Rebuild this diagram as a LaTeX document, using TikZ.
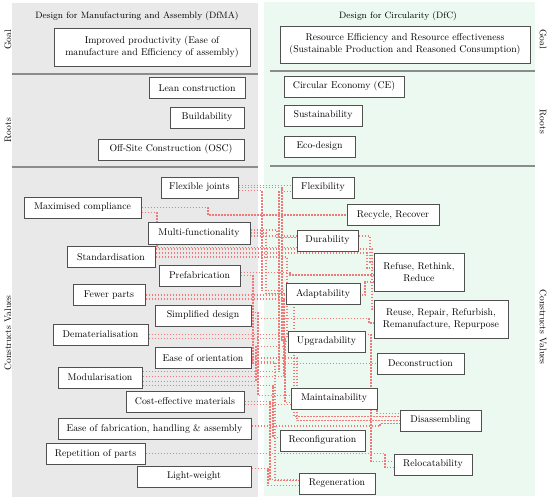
\documentclass[tikz,border=0pt]{standalone}
\usetikzlibrary{shadows}
\definecolor{panelgray}{RGB}{233,233,233}
\definecolor{panelgreen}{RGB}{235,249,240}
\definecolor{sepline}{RGB}{140,140,140}
\definecolor{connred}{RGB}{240,122,122}
\definecolor{boxline}{RGB}{80,80,80}
\pgfdeclarelayer{back}
\pgfdeclarelayer{lines}
\pgfsetlayers{back,lines,main}
\tikzset{
 box/.style={draw=boxline, line width=1pt, fill=white, inner sep=1pt, align=center,
   font=\fontsize{9.8}{11.8}\selectfont,
   drop shadow={shadow xshift=0.8pt, shadow yshift=-0.8pt, opacity=0.3}},
 conn/.style={draw=connred, line width=1.05pt, dash pattern=on 1.6pt off 1.4pt},
 side/.style={font=\fontsize{9.5}{10}\selectfont},
 ttl/.style={font=\fontsize{9.2}{10}\selectfont},
 sep/.style={draw=sepline, line width=1.2pt}
}
\newcommand\bx[6]{\node[box,minimum width=#4pt,minimum height=#5pt] (#1) at (#2,#3) {#6};}
\newcommand\cn[5]{%
 \coordinate (cs) at ([yshift=#2pt]#1.east);
 \coordinate (ct) at ([yshift=#5pt]#4.west);
 \coordinate (ck) at (#3,0);
 \draw[conn] (cs) -| (ck |- ct) -- (ct);}
\begin{document}
\begin{tikzpicture}[x=1pt,y=-1pt]
\useasboundingbox (0,0) rectangle (550,501);
% titles
\node[ttl] (t1) at (137,16) {Design for Manufacturing and Assembly (DfMA)};
\node[ttl] (t2) at (398,16) {Design for Circularity (DfC)};
% side labels
\node[side,rotate=90] (lg) at (8,40) {Goal};
\node[side,rotate=90] (lr) at (8,130) {Roots};
\node[side,rotate=90] (lc) at (8,333) {Constructs Values};
\node[side,rotate=-90] (rg) at (543,39) {Goal};
\node[side,rotate=-90] (rr) at (543,122) {Roots};
\node[side,rotate=-90] (rc) at (543,327) {Constructs Values};
% goal boxes
\bx{GL}{152}{47}{196}{38}{Improved productivity (Ease of\\manufacture and Efficiency of assembly)}
\bx{GR}{405}{44.5}{250}{37}{Resource Efficiency and Resource effectiveness\\(Sustainable Production and Reasoned Consumption)}
% roots
\bx{LC}{197}{88}{96}{21}{Lean construction}
\bx{BU}{207}{117.5}{74}{21}{Buildability}
\bx{OS}{171}{149.5}{146}{21}{Off-Site Construction (OSC)}
\bx{CEC}{344}{86.5}{120}{21}{Circular Economy (CE)}
\bx{SU}{323}{115.5}{78}{21}{Sustainability}
\bx{ED}{319.5}{146.5}{71}{21}{Eco-design}
% left constructs
\bx{FJ}{199.5}{187.5}{77}{21}{Flexible joints}
\bx{MC}{82.5}{207.5}{117}{21}{Maximised compliance}
\bx{MF}{199}{233}{102}{22}{Multi-functionality}
\bx{ST}{111}{257}{88}{21}{Standardisation}
\bx{PF}{199.5}{275.5}{81}{21}{Prefabrication}
\bx{FP}{109}{295}{72}{21}{Fewer parts}
\bx{SD}{203}{315.5}{96}{21}{Simplified design}
\bx{DM}{100.5}{334.5}{95}{21}{Dematerialisation}
\bx{EO}{203}{358}{96}{21}{Ease of orientation}
\bx{MO}{100}{377.5}{84}{21}{Modularisation}
\bx{CM}{185}{401.5}{118}{21}{Cost-effective materials}
\bx{EF}{154.5}{429}{193}{21}{Ease of fabrication, handling \& assembly}
\bx{RP}{95.5}{453.5}{99}{21}{Repetition of parts}
\bx{LW}{194}{476.5}{114}{21}{Light-weight}
% right constructs
\bx{FX}{323}{187.5}{62}{21}{Flexibility}
\bx{RR}{393}{215}{92}{21}{Recycle, Recover}
\bx{DU}{327.5}{240.5}{61}{21}{Durability}
\bx{RF}{419}{272}{90}{38}{Refuse, Rethink,\\Reduce}
\bx{AD}{323}{293.5}{74}{21}{Adaptability}
\bx{RU}{441}{319}{134}{38}{Reuse, Repair, Refurbish,\\Remanufacture, Repurpose}
\bx{UP}{326.5}{341.5}{77}{21}{Upgradability}
\bx{DC}{420.5}{363.5}{87}{21}{Deconstruction}
\bx{MA}{334}{398.5}{86}{21}{Maintainability}
\bx{DA}{440.5}{420.5}{81}{21}{Disassembling}
\bx{RC}{322.5}{440.5}{85}{21}{Reconfiguration}
\bx{RL}{433}{464.5}{78}{21}{Relocatability}
\bx{RG}{337}{483.5}{76}{21}{Regeneration}
% panels
\begin{pgfonlayer}{back}
 \fill[panelgray] (12,3) rectangle (258,497);
 \fill[panelgreen] (264,2) rectangle (535,496);
 \draw[sep] (12,74) -- (258,74);
 \draw[sep] (12,167) -- (258,167);
 \draw[sep] (270,71) -- (535,71);
 \draw[sep] (270,166) -- (535,166);
\end{pgfonlayer}
% connectors
\begin{pgfonlayer}{lines}
 \cn{FJ}{2}{272}{FX}{2}
 \cn{FJ}{-3}{262}{AD}{3}
 \cn{FJ}{0}{282}{UP}{0}
 \cn{MC}{0}{208}{RR}{0}
 \cn{MC}{-5}{157}{DU}{-7}
 \cn{MF}{3}{277}{DU}{3}
 \cn{MF}{-3}{370}{RF}{10}
 \cn{MF}{0}{266}{AD}{0}
 \cn{ST}{4}{367}{RF}{4}
 \cn{ST}{8}{372}{RU}{10}
 \cn{ST}{0}{287}{UP}{4}
 \cn{PF}{0}{253}{DC}{0}
 \cn{PF}{3}{290}{RF}{-3}
 \cn{FP}{0}{365}{RF}{-10}
 \cn{FP}{-4}{294}{DA}{4}
 \cn{SD}{3}{258}{MA}{3}
 \cn{SD}{-3}{369}{RU}{-4}
 \cn{DM}{0}{371}{RL}{3}
 \cn{DM}{-4}{285}{MA}{-4}
 \cn{EO}{0}{297}{DA}{0}
 \cn{EO}{-4}{275}{RG}{3}
 \cn{MO}{6}{279}{FX}{-4}
 \cn{MO}{1}{284}{AD}{-5}
 \cn{MO}{-4}{256}{UP}{-5}
 \cn{MO}{-8}{273}{RC}{3}
 \cn{CM}{0}{270}{RG}{4}
 \cn{CM}{-3}{377}{DA}{7}
 \cn{EF}{3}{380}{DA}{-3}
 \cn{RP}{0}{385}{RL}{-3}
 \cn{LW}{8}{268}{RG}{-2}
\end{pgfonlayer}
\end{tikzpicture}
\end{document}
